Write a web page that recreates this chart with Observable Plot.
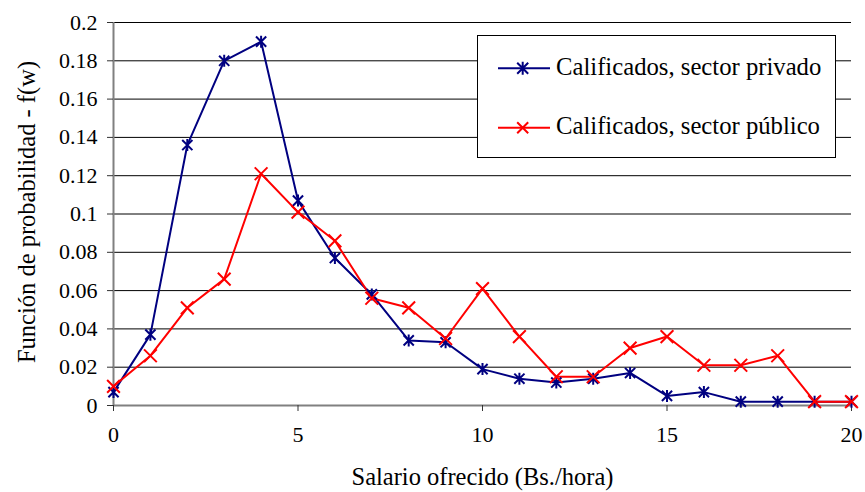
<!DOCTYPE html>
<html>
<head>
<meta charset="utf-8">
<script src="https://cdn.jsdelivr.net/npm/d3@7"></script>
<script src="https://cdn.jsdelivr.net/npm/@observablehq/plot@0.6"></script>
<style>
  html, body { margin: 0; padding: 0; background: #fff; }
  #wrap { position: relative; width: 865px; height: 492px; font-family: "Liberation Serif", "Times New Roman", serif; }
  #legend { position: absolute; left: 477px; top: 35px; }
</style>
</head>
<body>
<div id="wrap"></div>
<script>
const salario = [0,1,2,3,4,5,6,7,8,9,10,11,12,13,14,15,16,17,18,19,20];
const privado = [0.007,0.037,0.136,0.180,0.190,0.107,0.077,0.058,0.034,0.033,0.019,0.014,0.012,0.014,0.017,0.005,0.007,0.002,0.002,0.002,0.002];
const publico = [0.010,0.026,0.051,0.066,0.121,0.101,0.086,0.056,0.051,0.035,0.061,0.036,0.015,0.015,0.030,0.036,0.021,0.021,0.026,0.002,0.002];
const seriesNames = ["Calificados, sector privado", "Calificados, sector público"];
const seriesColors = ["#000080", "#ff0000"];
const yTicks = [0,0.02,0.04,0.06,0.08,0.1,0.12,0.14,0.16,0.18,0.2];
const xTicks = [0,5,10,15,20];
const xTitle = "Salario ofrecido (Bs./hora)";
const yTitle = "Función de probabilidad - f(w)";

const serif = '"Liberation Serif", "Times New Roman", serif';

const starSym = {draw(ctx, size) {
  const r = Math.sqrt(size / Math.PI);
  const d = r * 0.85;
  ctx.moveTo(0, -r); ctx.lineTo(0, r);
  ctx.moveTo(-d, -d); ctx.lineTo(d, d);
  ctx.moveTo(-d, d); ctx.lineTo(d, -d);
}};
const timesSym = {draw(ctx, size) {
  const r = Math.sqrt(size / Math.PI);
  const d = r * 0.85;
  ctx.moveTo(-d, -d); ctx.lineTo(d, d);
  ctx.moveTo(-d, d); ctx.lineTo(d, -d);
}};
const symbols = [starSym, timesSym];
const symR = [6, 7.5];

const rows = [];
[privado, publico].forEach((vals, si) => {
  vals.forEach((v, i) => rows.push({x: salario[i], y: v, s: si}));
});
const byS = si => rows.filter(r => r.s === si);

const chart = Plot.plot({
  width: 865,
  height: 492,
  marginLeft: 113,
  marginRight: 14,
  marginTop: 22,
  marginBottom: 87,
  style: {fontFamily: serif, fontSize: "22px", background: "#fff", color: "#000"},
  x: {domain: [0, 20]},
  y: {domain: [0, 0.2]},
  marks: [
    Plot.gridY(yTicks.filter(t => t > 0), {stroke: "#000", strokeOpacity: 1, strokeWidth: 1}),
    Plot.ruleX([0], {stroke: "#808080", strokeWidth: 2}),
    Plot.ruleY([0], {stroke: "#808080", strokeWidth: 2}),
    Plot.axisY({ticks: yTicks, tickSize: 6, tickPadding: 10, tickFormat: d => String(+d.toFixed(2)), label: null, stroke: "#333", fontSize: 22}),
    Plot.axisX({ticks: xTicks, tickSize: 6, tickPadding: 15, tickFormat: d => String(d), label: null, stroke: "#333", fontSize: 22}),
    Plot.text([yTitle], {frameAnchor: "left", textAnchor: "middle", lineAnchor: "middle", dx: -86, dy: -2, rotate: -90, fontSize: 24.5}),
    Plot.text([xTitle], {frameAnchor: "bottom", textAnchor: "middle", lineAnchor: "middle", dy: 72, fontSize: 24.5}),
    ...[0, 1].map(si => Plot.line(byS(si), {x: "x", y: "y", stroke: seriesColors[si], strokeWidth: 2})),
    ...[0, 1].map(si => Plot.dot(byS(si), {x: "x", y: "y", stroke: seriesColors[si], symbol: symbols[si], r: symR[si], strokeWidth: 2, fill: "none"}))
  ]
});

const wrap = document.getElementById("wrap");
wrap.appendChild(chart);

// Legend box (in-plot, top right)
const lg = d3.create("svg").attr("id", "legend").attr("width", 360).attr("height", 124);
lg.append("rect").attr("x", 0.5).attr("y", 0.5).attr("width", 358).attr("height", 122)
  .attr("fill", "#fff").attr("stroke", "#000").attr("stroke-width", 1);
const rowY = [33.3, 92.7];
seriesNames.forEach((name, si) => {
  const g = lg.append("g").attr("transform", `translate(0,${rowY[si]})`);
  const c = seriesColors[si];
  g.append("line").attr("x1", 21).attr("x2", 73).attr("y1", 0).attr("y2", 0).attr("stroke", c).attr("stroke-width", 2);
  const cx = 45.7, d = 5.5;
  let p = `M${cx - d},${-d}L${cx + d},${d}M${cx - d},${d}L${cx + d},${-d}`;
  if (si === 0) p += `M${cx},-6.5V6.5`;
  g.append("path").attr("d", p).attr("stroke", c).attr("stroke-width", 2).attr("fill", "none");
  g.append("text").attr("x", 79).attr("y", 6.7).attr("font-family", serif).attr("font-size", 24.7).attr("fill", "#000").text(name);
});
wrap.appendChild(lg.node());
</script>
</body>
</html>
